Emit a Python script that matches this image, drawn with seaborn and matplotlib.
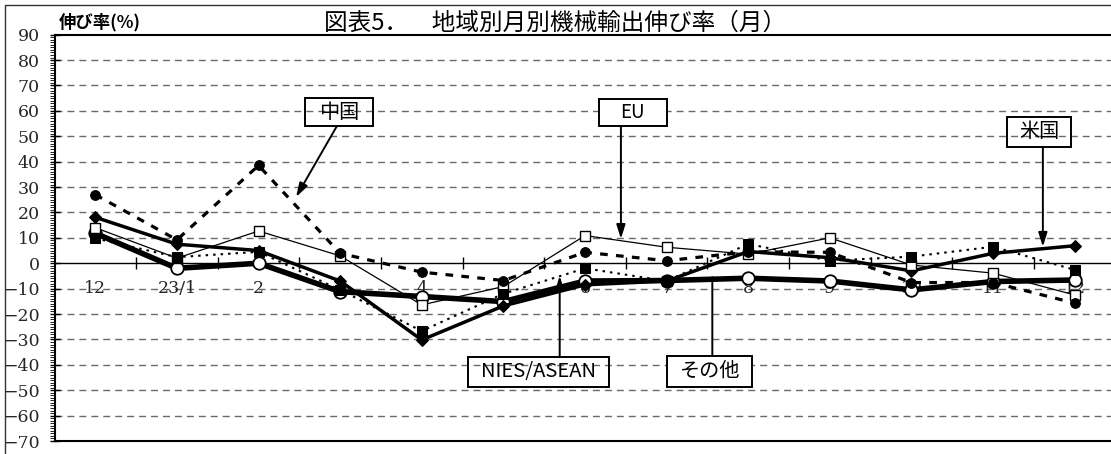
import numpy as np
import matplotlib
matplotlib.use("Agg")
import matplotlib.pyplot as plt
import seaborn as sns
from matplotlib.patches import Rectangle
from matplotlib.lines import Line2D
from matplotlib.ticker import MultipleLocator

# Month labels (Dec 2022 .. Dec 2023)
months = ["12", "23/1", "2", "3", "4", "5", "6", "7", "8", "9", "10", "11", "12"]

# Machinery export growth rates by region (%)
china = [27.0, 9.2, 38.5, 3.9, -3.5, -6.8, 4.3, 1.0, 4.5, 4.3, -7.6, -7.6, -15.7]
eu = [14.0, 2.0, 12.7, 2.9, -16.4, -9.2, 10.9, 6.3, 3.6, 10.0, -0.7, -3.9, -12.5]
usa = [18.1, 7.5, 5.0, -7.0, -30.2, -16.8, -8.5, -7.0, 4.6, 2.2, -3.0, 3.9, 6.9]
nies_asean = [9.8, 2.4, 4.5, -10.5, -26.7, -12.0, -2.0, -7.0, 7.6, 1.0, 2.6, 6.5, -2.6]
other = [11.8, -2.0, 0.0, -11.2, -13.1, -15.1, -7.0, -6.8, -5.9, -7.0, -10.5, -7.2, -6.6]

y_ticks = list(range(-70, 91, 10))

sns.set_theme(style="white")
plt.rcParams["font.family"] = ["Noto Sans CJK JP", "DejaVu Sans"]
plt.rcParams["axes.unicode_minus"] = True

W, H = 1111, 454
fig = plt.figure(figsize=(W / 100, H / 100), dpi=100)
fig.patch.set_facecolor("white")

left_px, right_px, top_px, bottom_px = 54.5, 1115.5, 34.7, 441.0
ax = fig.add_axes([left_px / W, (H - bottom_px) / H,
                   (right_px - left_px) / W, (bottom_px - top_px) / H])
ax.set_facecolor("white")
ax.set_xlim(-0.5, len(months) - 0.5)
ax.set_ylim(-70, 90)
ax.set_axisbelow(True)

pos = np.arange(len(months))

# one line per region, each with its own stroke and marker
sns.lineplot(x=pos, y=other, ax=ax, color="black", lw=4.0, linestyle="-",
             marker="o", markersize=9, markerfacecolor="white",
             markeredgecolor="black", markeredgewidth=1.3, zorder=3)
sns.lineplot(x=pos, y=usa, ax=ax, color="black", lw=2.5, linestyle="-",
             marker="D", markersize=6.5, markerfacecolor="black",
             markeredgecolor="black", zorder=4)
sns.lineplot(x=pos, y=eu, ax=ax, color="black", lw=0.9, linestyle="-",
             marker="s", markersize=6.5, markerfacecolor="white",
             markeredgecolor="black", markeredgewidth=1.0, zorder=5)
sns.lineplot(x=pos, y=china, ax=ax, color="black", lw=2.3,
             linestyle=(0, (2.4, 2.6)),
             marker="o", markersize=7, markerfacecolor="black",
             markeredgecolor="black", zorder=6)
sns.lineplot(x=pos, y=nies_asean, ax=ax, color="black", lw=1.5,
             linestyle=(0, (1.2, 2.4)),
             marker="s", markersize=6.5, markerfacecolor="black",
             markeredgecolor="black", zorder=7)

ax.set_xlabel("")
ax.set_ylabel("")
ax.set_xticks([])

# y axis: labelled major ticks, dense minor ticks
ax.set_yticks(y_ticks)
ax.set_yticklabels([str(v).replace("-", "\u2212") for v in y_ticks],
                   fontfamily="DejaVu Serif", fontsize=12.5)
ax.yaxis.set_minor_locator(MultipleLocator(1))
ax.tick_params(axis="y", which="major", direction="inout", length=7,
               width=1.0, color="black", pad=7, left=True)
ax.tick_params(axis="y", which="minor", direction="out", length=3.5,
               width=0.6, color="black", left=True)

# dashed horizontal grid
ax.yaxis.grid(True, which="major", color="#6a6a6a", lw=1.0,
              linestyle=(0, (5, 3.6)))
for tk, v in zip(ax.yaxis.get_major_ticks(), y_ticks):
    if v in (0, 90, -70):
        tk.gridline.set_visible(False)
ax.xaxis.grid(False)

for side in ("left", "top", "bottom"):
    ax.spines[side].set_visible(True)
    ax.spines[side].set_color("black")
    ax.spines[side].set_linewidth(1.5)
ax.spines["right"].set_visible(False)

# category axis crossing at zero
sec = ax.secondary_xaxis(70 / 160)
sec.set_zorder(1)
sec.set_ticks(pos[:-1] + 0.5)
sec.set_ticks(pos, labels=months, minor=True)
sec.tick_params(which="major", direction="inout", length=8, width=1.0,
                labelbottom=False, labeltop=False, color="black")
sec.tick_params(which="minor", length=0, pad=12, labelsize=12.5)
for lab in sec.get_xticklabels(minor=True):
    lab.set_fontfamily("DejaVu Serif")
for sp in sec.spines.values():
    sp.set_color("black")
    sp.set_linewidth(1.0)


def label_box(text, x0, x1, y0, y1, filled, size):
    ax.add_patch(Rectangle((x0, y0), x1 - x0, y1 - y0, transform=ax.transData,
                           fill=filled, facecolor="white", edgecolor="black",
                           lw=1.4, zorder=9, clip_on=False))
    ax.text((x0 + x1) / 2, (y0 + y1) / 2, text, ha="center", va="center",
            fontsize=size, color="black", zorder=10)


def pointer(tail, tip, head=True):
    style = "-|>,head_length=0.7,head_width=0.22" if head else "-"
    ax.annotate("", xy=tip, xytext=tail, xycoords="data", textcoords="data",
                arrowprops=dict(arrowstyle=style, color="black", lw=1.4,
                                shrinkA=0, shrinkB=0, mutation_scale=12),
                zorder=9, annotation_clip=False)


label_box("中国", 2.57, 3.40, 54.0, 65.1, False, 14.5)
pointer((2.96, 54.0), (2.46, 26.1))
label_box("EU", 6.17, 7.00, 54.0, 64.7, True, 13.5)
pointer((6.44, 54.0), (6.44, 9.6))
label_box("米国", 11.17, 11.96, 45.9, 57.7, False, 14.5)
pointer((11.61, 45.9), (11.61, 6.5))
label_box("NIES/ASEAN", 4.57, 6.30, -48.6, -36.8, False, 14.5)
pointer((5.69, -36.8), (5.69, -5.0))
label_box("その他", 7.01, 8.05, -48.7, -36.4, True, 14.5)
pointer((7.56, -36.4), (7.56, -5.5), head=False)

# titles
fig.text(555 / W, 1 - 23 / H, "図表5．　地域別月別機械輸出伸び率（月）",
         ha="center", va="center", fontsize=17, color="black")
fig.text(100 / W, 1 - 22 / H, "伸び率(%)", ha="center", va="center",
         fontsize=12.5, fontweight="bold", color="black")

# outer frame (left and top edges)
fig.add_artist(Line2D([5 / W, 5 / W], [0, 1 - 5 / H], transform=fig.transFigure,
                      color="#333333", lw=1.0))
fig.add_artist(Line2D([5 / W, 1], [1 - 5 / H, 1 - 5 / H],
                      transform=fig.transFigure, color="#333333", lw=1.0))

fig.savefig("out.png", dpi=100, facecolor="white")
